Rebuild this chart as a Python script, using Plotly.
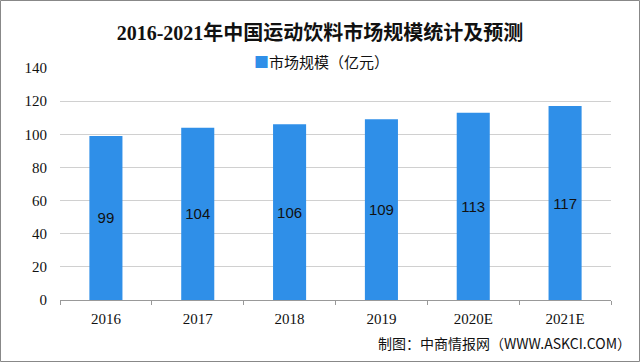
import plotly.graph_objects as go

categories = ["2016", "2017", "2018", "2019", "2020E", "2021E"]
values = [99, 104, 106, 109, 113, 117]
series_name = "市场规模（亿元）"
title_text = "2016-2021年中国运动饮料市场规模统计及预测"
source_text = "制图：中商情报网（WWW.ASKCI.COM）"
y_ticks = [0, 20, 40, 60, 80, 100, 120, 140]
bar_color = "#2F8FE8"

L, R, T, B = 60, 29, 68, 62
PW, PH = 640 - L - R, 362 - T - B

fig = go.Figure()
fig.add_trace(go.Bar(
    x=categories, y=values, name=series_name,
    marker=dict(color=bar_color, line=dict(width=0)),
    text=[str(v) for v in values], textposition="inside",
    insidetextanchor="middle",
    textfont=dict(family="Liberation Sans, Arial", size=15, color="#111111"),
    showlegend=False,
))

fig.update_layout(
    width=640, height=362,
    margin=dict(l=L, r=R, t=T, b=B),
    paper_bgcolor="white", plot_bgcolor="white",
    bargap=0.64,
    title=dict(text="<b>" + title_text + "</b>", x=0.5, xanchor="center",
               y=1 - 33 / 362, yanchor="middle",
               font=dict(family="Liberation Serif, Noto Sans CJK SC", size=20, color="#111111")),
    xaxis=dict(type="category", tickfont=dict(family="Liberation Serif", size=15, color="#111111"),
               showline=True, linecolor="#999999", linewidth=1,
               ticks="outside", ticklen=4, tickcolor="#999999",
               tickson="boundaries", showgrid=False, ticklabelstandoff=5),
    yaxis=dict(range=[0, 140], tickvals=y_ticks, showgrid=True, gridcolor="#d0d0d0",
               tickfont=dict(family="Liberation Serif", size=15, color="#111111"),
               zeroline=False, showline=False, ticks="", ticklabelstandoff=12),
    shapes=[dict(type="rect", xref="paper", yref="paper", x0=-(L - 0.5) / PW, x1=1 + (R - 0.5) / PW,
                 y0=-(B - 0.5) / PH, y1=1 + (T - 0.5) / PH, line=dict(color="#888888", width=1))],
    annotations=[
        dict(text="<span style='color:" + bar_color + "'>■</span>" + series_name,
             xref="paper", yref="paper", x=(252 - L) / PW, y=1 + (T - 61) / PH,
             xanchor="left", yanchor="middle", showarrow=False,
             font=dict(family="Noto Sans CJK SC", size=15, color="#111111")),
        dict(text=source_text, xref="paper", yref="paper", x=(633 - L) / PW, y=-(343 - (362 - B)) / PH,
             xanchor="right", yanchor="middle", showarrow=False,
             font=dict(family="Noto Sans CJK SC", size=14, color="#111111")),
    ],
)

fig.write_html("out.html", config={"displayModeBar": False})
with open("out.html", "r", encoding="utf-8") as f:
    html = f.read()
html = html.replace("<head>", "<head><style>html,body{margin:0;padding:0;overflow:hidden;}</style>", 1)
with open("out.html", "w", encoding="utf-8") as f:
    f.write(html)
